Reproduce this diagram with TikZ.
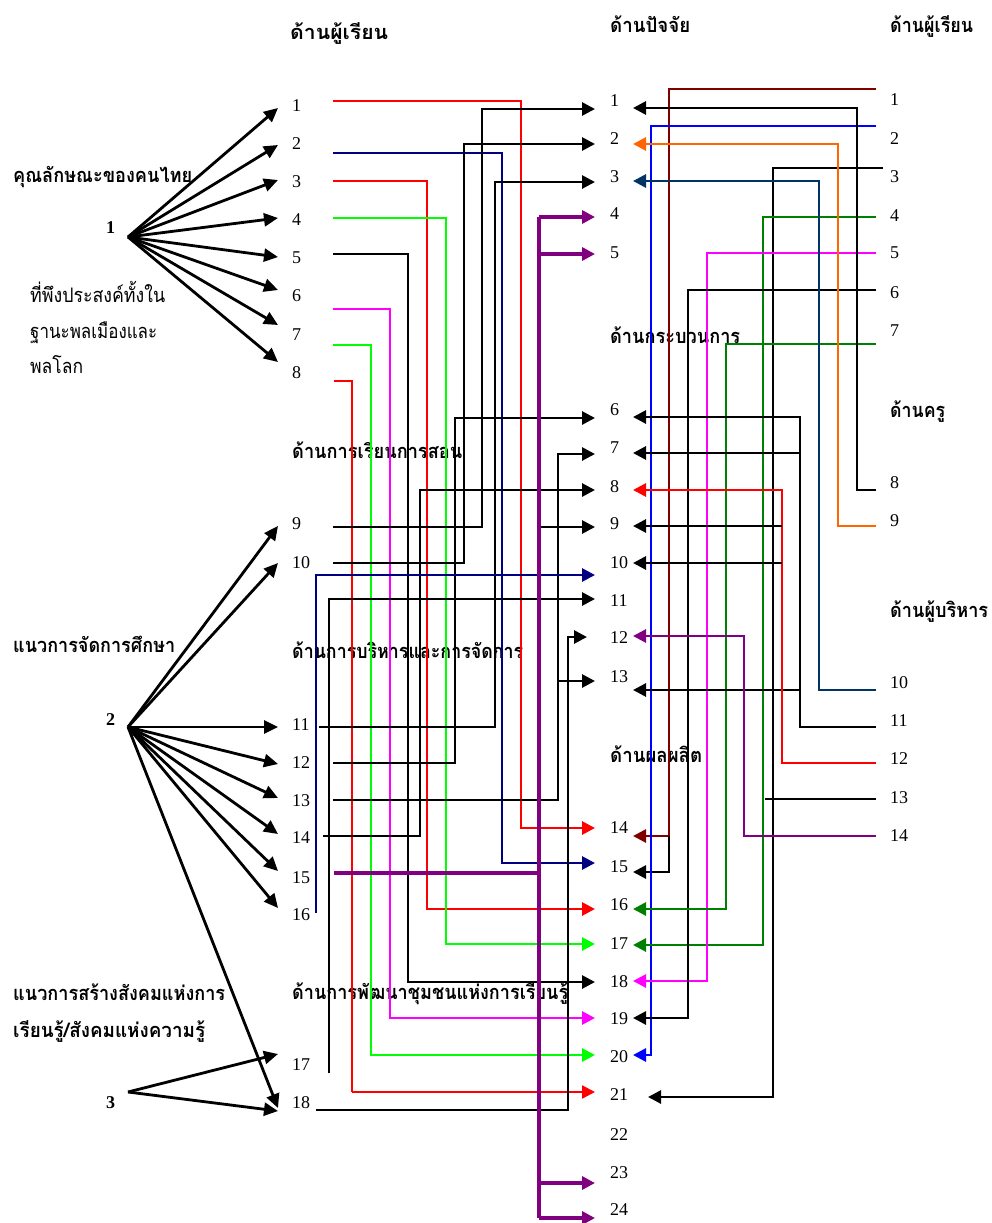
\documentclass[tikz,border=0pt]{standalone}
\usepackage{fontspec}
\setmainfont{Liberation Serif}
\newfontfamily\thaifont[Script=Thai]{Loma}
\usetikzlibrary{arrows.meta}
\definecolor{cRed}{HTML}{FF0000}
\definecolor{cNavy}{HTML}{000080}
\definecolor{cLime}{HTML}{00FF00}
\definecolor{cMag}{HTML}{FF00FF}
\definecolor{cPur}{HTML}{800080}
\definecolor{cMar}{HTML}{800000}
\definecolor{cBlue}{HTML}{0000FF}
\definecolor{cOra}{HTML}{FF6600}
\definecolor{cSteel}{HTML}{003366}
\definecolor{cDkG}{HTML}{008000}
\newcommand\thw[2]{\resizebox{#1pt}{\height}{\thaifont #2}}
\begin{document}
\begin{tikzpicture}[x=1pt,y=-1pt,
  num/.style={anchor=west,inner sep=0pt,font=\fontsize{18}{20}\selectfont},
  numb/.style={num,font=\fontsize{18}{20}\selectfont\bfseries},
  th/.style={anchor=base west,inner sep=0pt,font=\fontsize{20}{24}\selectfont},
  thb/.style={anchor=base west,inner sep=0pt,font=\fontsize{20}{24}\selectfont\bfseries},
  arr/.style={line width=2.8pt,-{Triangle[length=13pt,width=13pt]}},
  parr/.style={line width=3.4pt,cPur,-{Triangle[length=13pt,width=13pt]}},
  fan/.style={line width=2.8pt,-{Triangle[length=14pt,width=13pt]}}]
\useasboundingbox (0,0) rectangle (992,1223);

% ---------- headings ----------
\node[thb] (H1) at (290,40) {\thw{98}{ด้านผู้เรียน}};
\node[thb] (H2) at (610,33) {\thw{80}{ด้านปัจจัย}};
\node[thb] (H3) at (890,33) {\thw{83}{ด้านผู้เรียน}};
\node[thb] (S1) at (292,458) {\thw{170}{ด้านการเรียนการสอน}};
\node[thb] (S2) at (292,658) {\thw{231}{ด้านการบริหารและการจัดการ}};
\node[thb] (S3) at (292,999) {\thw{276}{ด้านการพัฒนาชุมชนแห่งการเรียนรู้}};
\node[thb] (S4) at (610,343) {\thw{130}{ด้านกระบวนการ}};
\node[thb] (S5) at (610,762) {\thw{92}{ด้านผลผลิต}};
\node[thb] (S6) at (890,417) {\thw{55}{ด้านครู}};
\node[thb] (S7) at (890,617) {\thw{98}{ด้านผู้บริหาร}};
\node[thb] (G1) at (13,182) {\thw{179}{คุณลักษณะของคนไทย}};
\node[th] (G1a) at (30,302) {\thw{135}{ที่พึงประสงค์ทั้งใน}};
\node[th] (G1b) at (30,338) {\thw{127}{ฐานะพลเมืองและ}};
\node[th] (G1c) at (30,373) {\thw{53}{พลโลก}};
\node[thb] (G2) at (13,652) {\thw{162}{แนวการจัดการศึกษา}};
\node[thb] (G3) at (13,1000) {\thw{212}{แนวการสร้างสังคมแห่งการ}};
\node[thb] (G3a) at (13,1037) {\thw{192}{เรียนรู้/สังคมแห่งความรู้}};
\node[numb] (N1) at (106,228) {1};
\node[numb] (N2) at (106,720) {2};
\node[numb] (N3) at (106,1103) {3};

% ---------- number columns ----------
\foreach \n/\y in {1/106,2/144,3/182,4/220,5/258,6/296,7/335,8/373,9/524,10/563,
  11/725,12/763,13/801,14/838,15/878,16/915,17/1065,18/1103}
  \node[num] (L\n) at (292,\y) {\n};
\foreach \n/\y in {1/101,2/139,3/177,4/214,5/253,6/410,7/448,8/487,9/524,10/563,
  11/601,12/638,13/677,14/828,15/867,16/905,17/944,18/982,19/1019,20/1057,
  21/1095,22/1135,23/1173,24/1210}
  \node[num] (M\n) at (610,\y) {\n};
\foreach \n/\y in {1/100,2/139,3/177,4/216,5/253,6/293,7/331,8/483,9/521,
  10/683,11/721,12/759,13/798,14/836}
  \node[num] (R\n) at (890,\y) {\n};

% ---------- fans ----------
\coordinate (O1) at (128,237);
\coordinate (O2) at (128,727);
\coordinate (O3) at (128,1092);
\foreach \y in {108,145,180,218,257,290,325,362} \draw[fan] (O1) -- (278,\y);
\foreach \y in {526,563,727,764,798,834,871,908,1108} \draw[fan] (O2) -- (278,\y);
\foreach \y in {1054,1111} \draw[fan] (O3) -- (278,\y);

% ---------- left to middle ----------
\draw[arr,cRed] (333,101) -| (521,828) -- (595,828);
\draw[arr,cNavy] (333,153) -| (502,863) -- (595,863);
\draw[arr,cRed] (333,181) -| (427,909) -- (595,909);
\draw[arr,cLime] (333,218) -| (446,944) -- (595,944);
\draw[arr] (333,254) -| (408,982) -- (595,982);
\draw[arr,cMag] (333,309) -| (390,1018) -- (595,1018);
\draw[arr,cLime] (333,345) -| (371,1055) -- (595,1055);
\draw[cRed,line width=1.2pt] (334,381) -| (352,1092);
\draw[arr,cRed,line width=2.2pt] (352,1092) -- (595,1092);
\draw[arr] (333,527) -| (482,109) -- (595,109);
\draw[arr] (333,563) -| (464,144) -- (595,144);
\draw[arr] (319,727) -| (495,182) -- (595,182);
\draw[arr] (333,763) -| (455,418) -- (595,418);
\draw[arr] (333,800) -| (558,454) -- (595,454);
\draw[arr] (558,681) -- (595,681);
\draw[arr] (323,836) -| (420,490) -- (595,490);
\draw[arr] (540,527) -- (595,527);
\draw[arr,cNavy] (316,913) |- (595,575);
\draw[arr] (329,1073) |- (595,599);
\draw[arr] (316,1110) -| (568,637) -- (587,637);
\draw[cPur,line width=3.4pt] (334,873) -- (539,873);
\draw[cPur,line width=3.4pt] (539,217) -- (539,1218);
\foreach \y in {217,254,1183,1218} \draw[parr] (539,\y) -- (595,\y);

% ---------- right to middle ----------
\draw[arr,cMar] (876,89) -| (669,836) -- (633,836);
\draw[arr] (669,836) |- (633,872);
\draw[arr,cBlue] (876,126) -| (651,1055) -- (633,1055);
\draw[arr] (883,168) -| (773,1097) -- (648,1097);
\draw[arr,cDkG] (876,217) -| (763,945) -- (633,945);
\draw[arr,cMag] (876,253) -| (707,981) -- (633,981);
\draw[arr] (876,290) -| (688,1018) -- (633,1018);
\draw[arr,cDkG] (876,344) -| (726,909) -- (633,909);
\draw[arr] (876,490) -| (857,108) -- (633,108);
\draw[arr,cOra] (876,526) -| (838,144) -- (633,144);
\draw[arr,cSteel] (876,690) -| (819,181) -- (633,181);
\draw[arr] (876,727) -| (800,417) -- (633,417);
\draw[arr] (800,453) -- (633,453);
\draw[arr] (800,690) -- (633,690);
\draw[arr,cRed] (876,763) -| (782,490) -- (633,490);
\draw[arr] (782,526) -- (633,526);
\draw[arr] (782,563) -- (633,563);
\draw[line width=1.2pt] (876,799) -- (765,799);
\draw[arr,cPur] (876,836) -| (744,636) -- (633,636);
\end{tikzpicture}
\end{document}
